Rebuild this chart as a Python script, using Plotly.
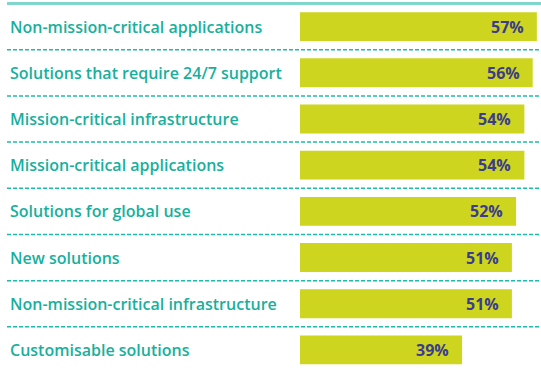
import plotly.graph_objects as go

categories = ['Non-mission-critical applications', 'Solutions that require 24/7 support',
              'Mission-critical infrastructure', 'Mission-critical applications',
              'Solutions for global use', 'New solutions',
              'Non-mission-critical infrastructure', 'Customisable solutions']
values = [57, 56, 54, 54, 52, 51, 51, 39]

W, H = 541, 373
ml, mt = 300, 2
pw = W - ml
left = -(ml - 7) / pw  # paper x of the left edge of the rules

fig = go.Figure(go.Bar(
    x=values, y=categories, orientation='h',
    marker=dict(color='#cdd51f', line=dict(width=0)),
    hoverinfo='skip',
))

# value labels inside the bar end, category labels on the left
for c, v in zip(categories, values):
    fig.add_annotation(x=v, y=c, text='%d%%' % v, showarrow=False,
                       xanchor='right', xshift=-11,
                       font=dict(family='Open Sans', size=16, color='#3b3d8c', weight=700))
    fig.add_annotation(x=-(ml - 8) / pw, xref='paper', y=c, text=c, showarrow=False,
                       xanchor='left',
                       font=dict(family='Open Sans', size=16, color='#17b09d', weight=600))

# separators
fig.add_shape(type='line', xref='paper', yref='y', x0=left, x1=1, y0=-0.5, y1=-0.5,
              line=dict(color='#7fd6cb', width=3))
for i in range(len(categories) - 1):
    fig.add_shape(type='line', xref='paper', yref='y', x0=left, x1=1, y0=i + 0.5, y1=i + 0.5,
                  line=dict(color='#1cbcab', width=1.5, dash='4px,2px'))

fig.update_layout(
    width=W, height=H,
    margin=dict(l=ml, r=0, t=mt, b=0),
    paper_bgcolor='white', plot_bgcolor='white',
    bargap=0.375, showlegend=False,
    xaxis=dict(range=[0, 58], visible=False, fixedrange=True),
    yaxis=dict(autorange='reversed', showticklabels=False, showgrid=False,
               zeroline=False, fixedrange=True),
)

fig.write_html('out.html', config={'displayModeBar': False},
               post_script="document.body.style.margin='0';")
